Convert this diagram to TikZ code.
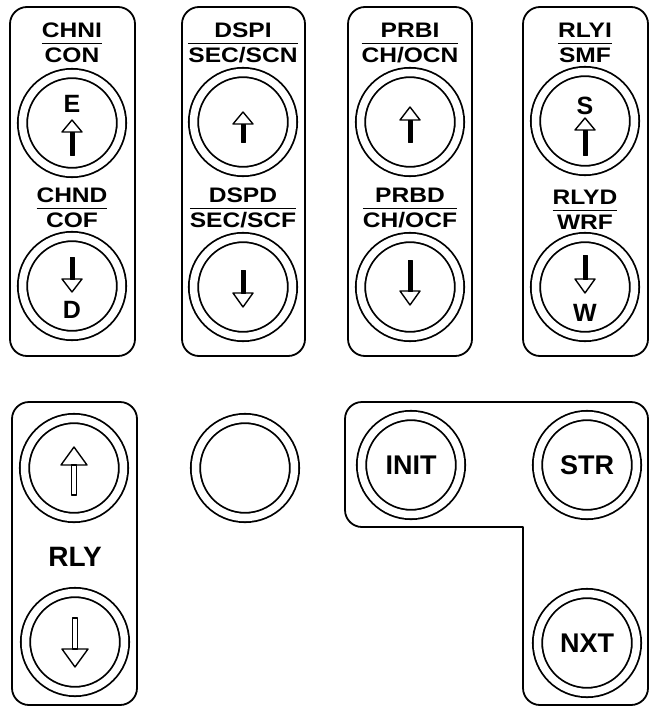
\documentclass[tikz,border=0pt]{standalone}
\usepackage{fontspec}
\setmainfont{Liberation Sans}
\usepackage{graphicx}
\usetikzlibrary{positioning}
\setlength{\arrayrulewidth}{1.6pt}
\newcommand{\fraclbl}[2]{\scalebox{1.17}[1]{\begin{tabular}{@{}c@{}}#1\\[-1.5pt]\hline\rule{0pt}{18.5pt}#2\end{tabular}}}
% x, tip y, tail y, half head width, head length, half shaft width, shaft style
\newcommand{\openarrow}[7]{%
  \pgfmathsetmacro\arrhb{#2+#5*sign(#3-#2)}
  \draw[arr,#7] (#1-#6,#3) rectangle (#1+#6,\arrhb);
  \draw[arr] (#1-#4,\arrhb) -- (#1,#2) -- (#1+#4,\arrhb) -- cycle;}

\begin{document}
\begin{tikzpicture}[x=1pt,y=-1pt,line join=round,
  panel/.style={draw,line width=1.8pt,rounded corners=17pt},
  btn/.style={circle,draw,double,double distance=7.5pt,line width=1.8pt,minimum size=99pt,inner sep=0pt,font=\bfseries\fontsize{27}{27}\selectfont},
  lbl/.style={inner sep=0pt,anchor=north,font=\bfseries\fontsize{21}{22}\selectfont},
  dir/.style={inner sep=0pt,font=\bfseries\fontsize{25}{25}\selectfont},
  arr/.style={draw,line width=1.4pt},
  solid shaft/.style={fill,line width=0.6pt}]
\useasboundingbox (0,0) rectangle (652,709);
% top row
\draw[panel] (10,7) rectangle (135,356);
\draw[panel] (182,7) rectangle (305,356);
\draw[panel] (348,7) rectangle (472,356);
\draw[panel] (523,7) rectangle (648,356);

\node[lbl] (chni) at (72,22) {\fraclbl{CHNI}{CON}};
\node[btn] (chup) at (72,123) {};
\node[dir] (e) at (72,104) {E};
\openarrow{72}{120}{155}{10}{12}{2}{solid shaft}
\node[lbl] (chnd) at (72,187) {\fraclbl{CHND}{COF}};
\node[btn] (chdn) at (72,286) {};
\openarrow{72}{292}{257}{10}{13}{2}{solid shaft}
\node[dir] (d) at (72,310) {D};

\node[lbl] (dspi) at (243,22) {\fraclbl{DSPI}{SEC/SCN}};
\node[btn] (dsup) at (243,122) {};
\openarrow{243}{112}{142}{10}{12}{2}{solid shaft}
\node[lbl] (dspd) at (243,187) {\fraclbl{DSPD}{SEC/SCF}};
\node[btn] (dsdn) at (243,287) {};
\openarrow{243}{307}{270}{10}{14}{2}{solid shaft}

\node[lbl] (prbi) at (410,22) {\fraclbl{PRBI}{CH/OCN}};
\node[btn] (prup) at (410,122) {};
\openarrow{410}{107}{142}{10}{13}{2}{solid shaft}
\node[lbl] (prbd) at (410,187) {\fraclbl{PRBD}{CH/OCF}};
\node[btn] (prdn) at (410,287) {};
\openarrow{410}{305}{260}{10}{14}{2}{solid shaft}

\node[lbl] (rlyi) at (585,22) {\fraclbl{RLYI}{SMF}};
\node[btn] (rlup) at (585,121) {};
\node[dir] (s) at (585,106) {S};
\openarrow{585}{118}{155}{10}{12}{2}{solid shaft}
\node[lbl] (rlyd) at (585,189) {\fraclbl{RLYD}{WRF}};
\node[btn] (rldn) at (585,287) {};
\openarrow{585}{293}{255}{10}{14}{2}{solid shaft}
\node[dir] (w) at (585,313) {W};

% bottom row
\draw[panel] (12,402) rectangle (137,705);
\node[btn] (rlyup) at (74,468) {};
\openarrow{74}{447}{495}{13}{18}{2.5}{}
\node[inner sep=0pt,font=\bfseries\fontsize{28}{28}\selectfont] (rly) at (75,557) {RLY};
\node[btn] (rlydn) at (75,642) {};
\openarrow{75}{667}{618}{13}{18}{2.5}{}

\node[btn] (blank) at (245,468) {};

\draw[panel] (345,465) -- (345,402) -- (648,402) -- (648,705) -- (523,705) -- (523,560) [sharp corners] -- (523,527) -- (480,527) [rounded corners=17pt] -- (345,527) -- cycle;
\node[btn] (init) at (411,465) {INIT};
\node[btn] (str) at (587,465) {STR};
\node[btn] (nxt) at (587,643) {NXT};
\end{tikzpicture}
\end{document}
